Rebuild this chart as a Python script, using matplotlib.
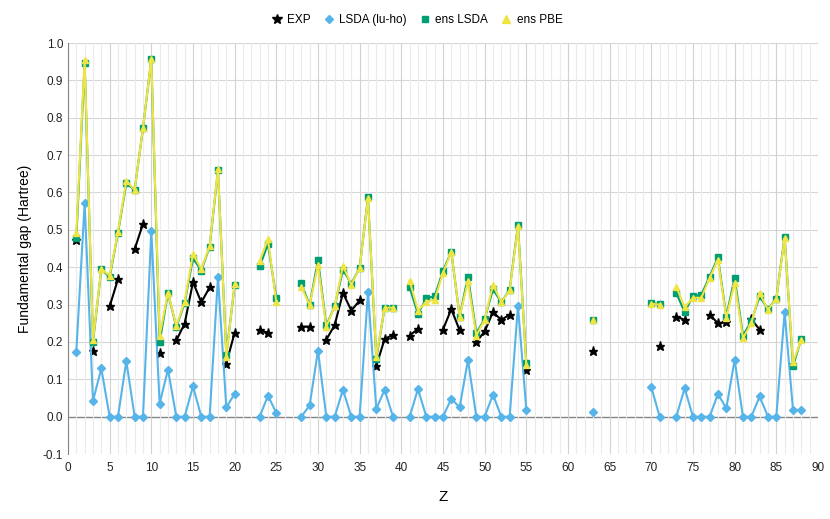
import numpy as np
import matplotlib
matplotlib.use("Agg")
import matplotlib.pyplot as plt
from matplotlib.ticker import MultipleLocator
from matplotlib.lines import Line2D

plt.rcParams['font.family'] = ['Liberation Sans', 'DejaVu Sans']

# atomic numbers that appear in the chart
Z = [1, 2, 3, 4, 5, 6, 7, 8, 9, 10, 11, 12, 13, 14, 15, 16, 17, 18, 19, 20,
     23, 24, 25,
     28, 29, 30, 31, 32, 33, 34, 35, 36, 37, 38, 39,
     41, 42, 43, 44, 45, 46, 47, 48, 49, 50, 51, 52, 53, 54, 55,
     63,
     70, 71,
     73, 74, 75, 76, 77, 78, 79, 80, 81, 82, 83, 84, 85, 86, 87, 88]

exp_gap = [0.473, None, 0.176, None, 0.295, 0.368, None, 0.448, 0.516, None,
           0.170, None, 0.204, 0.249, 0.360, 0.306, 0.346, None, 0.142, 0.225,
           0.231, 0.225, None,
           0.241, 0.241, None, 0.206, 0.245, 0.331, 0.284, 0.311, None, 0.136, 0.208, 0.219,
           0.217, 0.235, None, None, 0.233, 0.288, 0.231, None, 0.200, 0.228,
           0.280, 0.259, 0.273, None, 0.126,
           0.177,
           None, 0.188,
           0.268, 0.259, None, None, 0.273, 0.250, 0.253, None, None, 0.261,
           0.233, None, None, None, None, None]

lsda = [0.174, 0.571, 0.042, 0.129, 0.0, 0.0, 0.149, 0.0, 0.0, 0.497,
        0.035, 0.126, 0.0, 0.0, 0.081, 0.0, 0.0, 0.373, 0.025, 0.061,
        0.0, 0.056, 0.010,
        0.0, 0.030, 0.177, 0.0, 0.0, 0.072, 0.0, 0.0, 0.334, 0.021, 0.072, 0.0,
        0.0, 0.074, 0.0, 0.0, 0.0, 0.048, 0.025, 0.152, 0.0, 0.0,
        0.059, 0.0, 0.0, 0.297, 0.019,
        0.013,
        0.079, 0.0,
        0.0, 0.076, 0.0, 0.0, 0.0, 0.061, 0.022, 0.152, 0.0, 0.0,
        0.054, 0.0, 0.0, 0.279, 0.019, 0.017]

ens_lsda = [0.477, 0.947, 0.200, 0.395, 0.373, 0.492, 0.625, 0.607, 0.772, 0.956,
            0.199, 0.331, 0.240, 0.304, 0.424, 0.391, 0.455, 0.659, 0.166, 0.352,
            0.402, 0.462, 0.317,
            0.357, 0.298, 0.420, 0.244, 0.295, 0.393, 0.356, 0.398, 0.587, 0.155, 0.292, 0.292,
            0.346, 0.275, 0.317, 0.322, 0.390, 0.442, 0.268, 0.375, 0.224, 0.261,
            0.341, 0.306, 0.340, 0.513, 0.143,
            0.259,
            0.304, 0.301,
            0.331, 0.280, 0.322, 0.326, 0.375, 0.426, 0.268, 0.372, 0.217, 0.255,
            0.322, 0.288, 0.316, 0.482, 0.135, 0.208]

ens_pbe = [0.492, 0.955, 0.204, 0.396, 0.377, 0.495, 0.631, 0.607, 0.772, 0.958,
           0.217, 0.332, 0.243, 0.308, 0.435, 0.395, 0.457, 0.662, 0.161, 0.355,
           0.417, 0.475, 0.306,
           0.348, 0.298, 0.406, 0.241, 0.295, 0.404, 0.353, 0.398, 0.585, 0.161, 0.291, 0.292,
           0.364, 0.284, 0.308, 0.313, 0.384, 0.442, 0.268, 0.362, 0.217, 0.260,
           0.353, 0.306, 0.338, 0.509, 0.139,
           0.259,
           0.302, 0.300,
           0.348, 0.293, 0.318, 0.318, 0.371, 0.420, 0.264, 0.359, 0.210, 0.250,
           0.331, 0.286, 0.316, 0.478, 0.145, 0.206]


def expand(vals):
    # put values on a full 1..88 grid, NaN where there is no data (breaks the line)
    full = np.full(88, np.nan)
    full[np.array(Z) - 1] = [np.nan if v is None else v for v in vals]
    return full


zz = np.arange(1, 89)

fig = plt.figure(figsize=(8.3, 5.19), dpi=100)
ax = fig.add_axes([0.0819, 0.1252, 0.9036, 0.7919])

series = [
    (exp_gap, 'black', '*', 6.5, 'EXP'),
    (lsda, '#56B4E9', 'D', 3.8, 'LSDA (lu-ho)'),
    (ens_lsda, '#009E73', 's', 4.2, 'ens LSDA'),
    (ens_pbe, '#F0E442', '^', 4.8, 'ens PBE'),
]
handles = []
for i, (vals, col, mk, ms, lab) in enumerate(series):
    ax.plot(zz, expand(vals), color=col, lw=1.5, marker=mk, ms=ms, zorder=3 + i)
    handles.append(Line2D([], [], ls='none', marker=mk, color=col, ms=ms + 0.5, label=lab))

ax.set_xlim(0, 90)
ax.set_ylim(-0.1, 1.0)
ax.xaxis.set_major_locator(MultipleLocator(5))
ax.xaxis.set_minor_locator(MultipleLocator(1))
ax.set_yticks(np.round(np.arange(-0.1, 1.01, 0.1), 1))
ax.yaxis.set_major_formatter(matplotlib.ticker.FormatStrFormatter('%.1f'))

ax.grid(axis='x', which='minor', color='#EBEBEB', lw=0.8, zorder=0)
ax.grid(axis='x', which='major', color='#D2D2D2', lw=0.8, zorder=0)
for yv in np.arange(0.1, 1.01, 0.1):
    ax.axhline(yv, color='#D6D6D6', lw=0.8, zorder=0)
ax.axhline(0, color='#858585', lw=1.0, zorder=1)

for s in ['top', 'right', 'bottom']:
    ax.spines[s].set_visible(False)
ax.spines['left'].set_color('#858585')
ax.tick_params(axis='both', which='both', length=0, labelsize=8.5, colors='#222222')
ax.tick_params(axis='x', pad=6)

ax.set_xlabel('Z', fontsize=11, labelpad=11)
ax.set_ylabel('Fundamental gap (Hartree)', fontsize=10, labelpad=8)

ax.legend(handles=handles, loc='center', bbox_to_anchor=(0.465, 1.056), ncol=4,
          frameon=False, fontsize=8.5, handlelength=1.0, columnspacing=1.0,
          handletextpad=0.4, borderaxespad=0)

fig.savefig('out.png', dpi=100)
